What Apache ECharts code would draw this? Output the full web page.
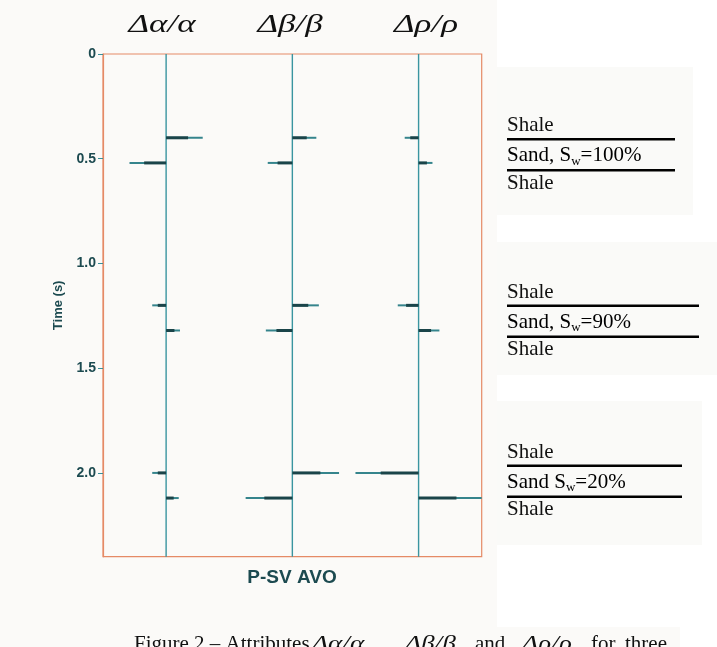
<!DOCTYPE html>
<html>
<head>
<meta charset="utf-8">
<script src="https://cdn.jsdelivr.net/npm/echarts@6/dist/echarts.min.js"></script>
<style>
  html, body { margin: 0; padding: 0; background: #ffffff; }
  #chart { width: 717px; height: 647px; }
</style>
</head>
<body>
<div id="chart"></div>
<script>
// Trace headers (one attribute per trace)
const traceNames = ['Δα/α', 'Δβ/β', 'Δρ/ρ'];
// Reflection times (s): top and base of the sand for each of the three models
const eventTimes = [0.40, 0.52, 1.20, 1.32, 2.00, 2.12];
// Spike amplitudes, in trace-spacing units (positive to the right)
const alphaAmp = [0.29, -0.29, -0.11, 0.11, -0.11, 0.10];
const betaAmp  = [0.19, -0.195, 0.21, -0.21, 0.37, -0.37];
const rhoAmp   = [-0.11, 0.11, -0.165, 0.165, -0.50, 0.50];
// Time axis ticks
const timeTicks = [0, 0.5, 1.0, 1.5, 2.0];
const timeMax = 2.4;
// Layer annotations on the right
const layerTop = ['Shale', 'Shale', 'Shale'];
const sandPrefix = ['Sand, S', 'Sand, S', 'Sand S'];
const sandSub = ['w', 'w', 'w'];
const sandSuffix = ['=100%', '=90%', '=20%'];
const layerBase = ['Shale', 'Shale', 'Shale'];
const axisTitle = 'P-SV AVO';
const yTitle = 'Time (s)';
// Caption pieces: [text, italic]
const captionParts = [
  ['Figure 2 – Attributes', false],
  ['Δα/α', true],
  [',', false],
  ['Δβ/β', true],
  ['and', false],
  ['Δρ/ρ', true],
  ['for', false],
  ['three', false]
];

const ampSets = [alphaAmp, betaAmp, rhoAmp];
const spikeData = [];
ampSets.forEach((amps, ti) => {
  amps.forEach((a, k) => spikeData.push([ti, eventTimes[k], a]));
});
const traceData = traceNames.map((_, i) => [i]);

const tealDark = '#1c4a50';
const traceColor = '#3a95a0';
const frameColor = '#e58a66';
const serif = '"Liberation Serif", "DejaVu Serif", serif';
const sans = '"Liberation Sans", Arial, sans-serif';

// Placement of the annotation blocks on the right
const blockX = 507;
const blockTops = [131.7, 298.3, 458.3];        // baseline of first "Shale"
const blockLineEnd = [675, 699, 682];
const headerX = [162, 290, 426];
const captionX = [134, 312, 370, 405, 475, 522, 591, 625];

const graphics = [];
// paper tones
graphics.push({ type: 'rect', z: -10, silent: true, shape: { x: 0, y: 0, width: 497, height: 627 }, style: { fill: '#fbfaf8' } });
graphics.push({ type: 'rect', z: -10, silent: true, shape: { x: 497, y: 67, width: 196, height: 148 }, style: { fill: '#fafaf8' } });
graphics.push({ type: 'rect', z: -10, silent: true, shape: { x: 497, y: 242, width: 220, height: 133 }, style: { fill: '#fafaf8' } });
graphics.push({ type: 'rect', z: -10, silent: true, shape: { x: 497, y: 401, width: 205, height: 144 }, style: { fill: '#fafaf8' } });
graphics.push({ type: 'rect', z: -10, silent: true, shape: { x: 0, y: 627, width: 680, height: 20 }, style: { fill: '#fbfaf8' } });

// Trace headers (wide italic)
traceNames.forEach((name, i) => {
  graphics.push({
    type: 'text', z: 10, x: headerX[i], y: 25.5, scaleX: 1.4,
    style: {
      x: 0, y: 0, text: name,
      font: 'italic 25px ' + serif, fill: '#111111',
      textAlign: 'center', textVerticalAlign: 'middle'
    }
  });
});

// Layer annotation blocks
blockTops.forEach((b, i) => {
  const plain = { font: '21px ' + serif, fill: '#111111', textAlign: 'left', textVerticalAlign: 'middle' };
  graphics.push({ type: 'text', z: 10, style: Object.assign({ x: blockX, y: b - 6, text: layerTop[i] }, plain) });
  graphics.push({ type: 'line', z: 10, shape: { x1: blockX, y1: b + 7.5, x2: blockLineEnd[i], y2: b + 7.5 }, style: { stroke: '#000', lineWidth: 2.4 } });
  graphics.push({
    type: 'text', z: 10,
    style: {
      x: blockX, y: b + 30 - 6,
      text: '{n|' + sandPrefix[i] + '}{s|' + sandSub[i] + '}{n|' + sandSuffix[i] + '}',
      textAlign: 'left', textVerticalAlign: 'middle',
      rich: {
        n: { fontFamily: serif, fontSize: 21, lineHeight: 24, color: '#111111', verticalAlign: 'middle' },
        s: { fontFamily: serif, fontSize: 13, lineHeight: 16, color: '#111111', verticalAlign: 'bottom' }
      }
    }
  });
  graphics.push({ type: 'line', z: 10, shape: { x1: blockX, y1: b + 38.5, x2: blockLineEnd[i], y2: b + 38.5 }, style: { stroke: '#000', lineWidth: 2.4 } });
  graphics.push({ type: 'text', z: 10, style: Object.assign({ x: blockX, y: b + 57.6 - 6, text: layerBase[i] }, plain) });
});

// Axis title under the panel
graphics.push({
  type: 'text', z: 10,
  style: { x: 292, y: 578, text: axisTitle, font: 'bold 19px ' + sans, fill: tealDark, textAlign: 'center', textVerticalAlign: 'middle' }
});

// Figure caption
captionParts.forEach((p, i) => {
  graphics.push({
    type: 'text', z: 10, x: captionX[i], y: 634, scaleX: p[1] ? 1.3 : 1,
    style: {
      x: 0, y: 0, text: p[0],
      font: (p[1] ? 'italic ' : '') + '21px ' + serif, fill: '#111111',
      textAlign: 'left', textVerticalAlign: 'top'
    }
  });
});

const chart = echarts.init(document.getElementById('chart'), null, { renderer: 'canvas' });
chart.setOption({
  backgroundColor: 'transparent',
  animation: false,
  grid: {
    left: 103, top: 54, width: 378.7, height: 502.7,
    show: true, borderColor: frameColor, borderWidth: 1.2, backgroundColor: 'transparent'
  },
  xAxis: {
    type: 'value', min: 0, max: 3, show: false
  },
  yAxis: {
    type: 'value', min: 0, max: timeMax, inverse: true, interval: 0.5,
    name: yTitle, nameLocation: 'middle', nameGap: 38, nameRotate: 90,
    nameTextStyle: { fontFamily: sans, fontWeight: 'bold', fontSize: 13, color: tealDark },
    axisLine: { show: true, lineStyle: { color: frameColor, width: 1.2 } },
    axisTick: { show: true, length: 5, customValues: timeTicks, lineStyle: { color: '#3a8f98', width: 1 } },
    axisLabel: {
      customValues: timeTicks, margin: 7,
      fontFamily: sans, fontWeight: 'bold', fontSize: 14, color: tealDark,
      formatter: v => (v === 0 ? '0' : v.toFixed(1))
    },
    splitLine: { show: false }
  },
  graphic: graphics,
  series: [
    {
      // vertical trace baselines
      type: 'custom',
      data: traceData,
      silent: true,
      z: 3,
      renderItem: (params, api) => {
        const x = api.value(0) + 0.5;
        const p0 = api.coord([x, 0]);
        const p1 = api.coord([x, timeMax]);
        return {
          type: 'line',
          shape: { x1: p0[0], y1: p0[1], x2: p1[0], y2: p1[1] },
          style: { stroke: traceColor, lineWidth: 1.4 }
        };
      }
    },
    {
      // reflection spikes on each trace
      type: 'custom',
      data: spikeData,
      silent: true,
      z: 4,
      renderItem: (params, api) => {
        const x = api.value(0) + 0.5;
        const t = api.value(1);
        const a = api.value(2);
        const p0 = api.coord([x, t]);
        const p1 = api.coord([x + a, t]);
        const pm = api.coord([x + a * 0.6, t]);
        return {
          type: 'group',
          children: [
            { type: 'line', shape: { x1: p0[0], y1: p0[1], x2: p1[0], y2: p1[1] }, style: { stroke: '#35848c', lineWidth: 2 } },
            { type: 'line', shape: { x1: p0[0], y1: p0[1], x2: pm[0], y2: pm[1] }, style: { stroke: '#1a4449', lineWidth: 3 } }
          ]
        };
      }
    }
  ]
});
</script>
</body>
</html>
